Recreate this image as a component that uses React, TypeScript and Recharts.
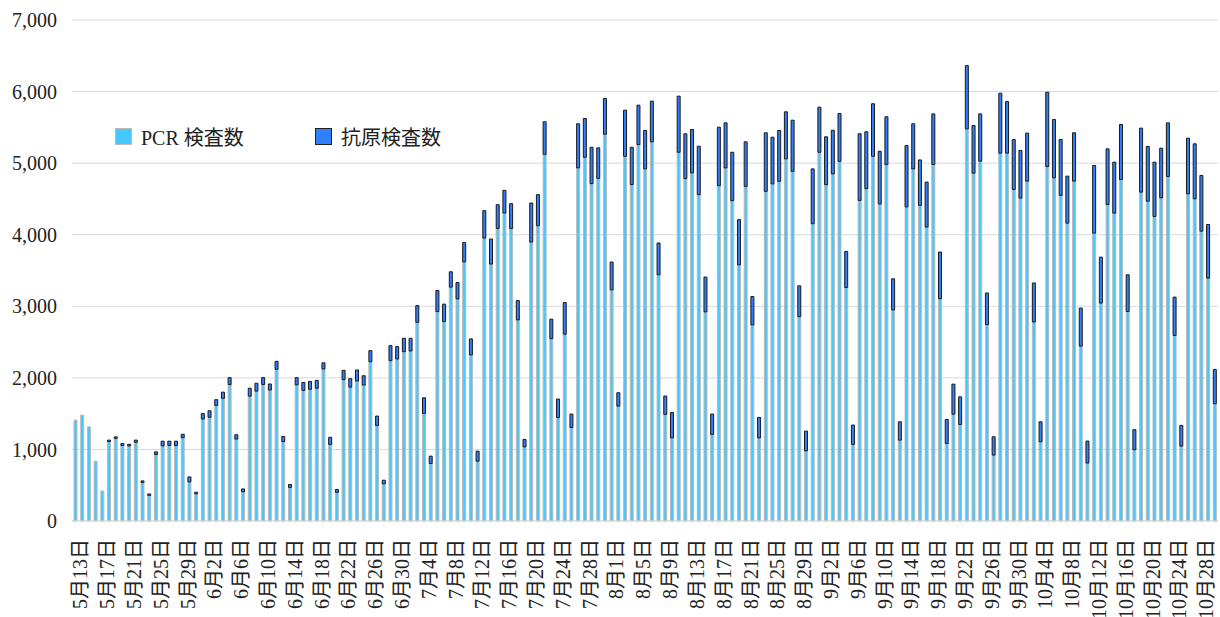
import { BarChart, Bar, XAxis, YAxis, CartesianGrid, Legend } from "recharts";

const dates = [
  "5月13日", "5月14日", "5月15日", "5月16日", "5月17日", "5月18日", "5月19日", "5月20日", "5月21日", "5月22日",
  "5月23日", "5月24日", "5月25日", "5月26日", "5月27日", "5月28日", "5月29日", "5月30日", "5月31日",
  "6月1日", "6月2日", "6月3日", "6月4日", "6月5日", "6月6日", "6月7日", "6月8日", "6月9日", "6月10日",
  "6月11日", "6月12日", "6月13日", "6月14日", "6月15日", "6月16日", "6月17日", "6月18日", "6月19日", "6月20日",
  "6月21日", "6月22日", "6月23日", "6月24日", "6月25日", "6月26日", "6月27日", "6月28日", "6月29日", "6月30日",
  "7月1日", "7月2日", "7月3日", "7月4日", "7月5日", "7月6日", "7月7日", "7月8日", "7月9日", "7月10日",
  "7月11日", "7月12日", "7月13日", "7月14日", "7月15日", "7月16日", "7月17日", "7月18日", "7月19日", "7月20日",
  "7月21日", "7月22日", "7月23日", "7月24日", "7月25日", "7月26日", "7月27日", "7月28日", "7月29日", "7月30日", "7月31日",
  "8月1日", "8月2日", "8月3日", "8月4日", "8月5日", "8月6日", "8月7日", "8月8日", "8月9日", "8月10日",
  "8月11日", "8月12日", "8月13日", "8月14日", "8月15日", "8月16日", "8月17日", "8月18日", "8月19日", "8月20日",
  "8月21日", "8月22日", "8月23日", "8月24日", "8月25日", "8月26日", "8月27日", "8月28日", "8月29日", "8月30日", "8月31日",
  "9月1日", "9月2日", "9月3日", "9月4日", "9月5日", "9月6日", "9月7日", "9月8日", "9月9日", "9月10日",
  "9月11日", "9月12日", "9月13日", "9月14日", "9月15日", "9月16日", "9月17日", "9月18日", "9月19日", "9月20日",
  "9月21日", "9月22日", "9月23日", "9月24日", "9月25日", "9月26日", "9月27日", "9月28日", "9月29日", "9月30日",
  "10月1日", "10月2日", "10月3日", "10月4日", "10月5日", "10月6日", "10月7日", "10月8日", "10月9日", "10月10日",
  "10月11日", "10月12日", "10月13日", "10月14日", "10月15日", "10月16日", "10月17日", "10月18日", "10月19日", "10月20日",
  "10月21日", "10月22日", "10月23日", "10月24日", "10月25日", "10月26日", "10月27日", "10月28日", "10月29日", "10月30日",
];

// PCR検査数
const pcr = [
  1410, 1480, 1316, 836, 420, 1110, 1155, 1055, 1050, 1100, 540, 358, 930, 1050, 1055, 1055, 1165, 546, 380,
  1425, 1450, 1615, 1715, 1908, 1145, 408, 1745, 1815, 1908, 1830, 2120, 1110, 470, 1903, 1825, 1840, 1855, 2125, 1070,
  400, 1975, 1870, 1956, 1900, 2226, 1336, 519, 2240, 2264,
  2366, 2376, 2777, 1503, 803, 2926, 2787, 3268, 3103, 3620, 2320, 836, 3953, 3590, 4088, 4303, 4088, 2810, 1036, 3898,
  4126, 5124, 2548, 1447, 2610, 1307, 4934, 5082, 4714, 4788, 5404,
  3230, 1606, 5096, 4700, 5260, 4920, 5298, 3440, 1490, 1162, 5152, 4784, 4864, 4560, 2922, 1210, 4686, 4933, 4476, 3580,
  4676, 2740, 1162, 4606, 4710, 4746, 5060, 4886, 2856, 980, 4154,
  5152, 4700, 4850, 5026, 3262, 1070, 4480, 4644, 5096, 4430, 4980, 2950, 1130, 4388, 4920, 4410, 4107, 4981, 3107, 1084,
  1493, 1349, 5479, 4860, 5028, 2744, 921, 5140, 5140, 4633,
  4512, 4749, 2781, 1107, 4953, 4795, 4549, 4162, 4749, 2444, 810, 4022, 3045, 4423, 4302, 4772, 2928, 996, 4595, 4469,
  4255, 4516, 4814, 2593, 1047, 4572, 4502, 4050, 3394, 1639,
];

// 抗原検査数
const antigen = [
  0, 0, 0, 0, 0, 20, 20, 28, 22, 30, 20, 20, 36, 65, 60, 60, 47, 70, 22,
  75, 90, 80, 85, 95, 60, 40, 110, 110, 95, 85, 110, 70, 40, 100, 110, 110, 110, 85, 100,
  40, 130, 118, 154, 130, 154, 130, 51, 210, 172,
  187, 177, 233, 219, 103, 294, 243, 214, 229, 270, 224, 140, 383, 350, 332, 317, 346, 270, 104, 545,
  434, 454, 272, 257, 442, 187, 616, 542, 508, 426, 500,
  388, 186, 644, 522, 550, 536, 568, 444, 256, 355, 784, 626, 606, 676, 486, 284, 816, 630, 676, 630,
  622, 396, 285, 818, 652, 710, 657, 714, 430, 276, 766,
  630, 668, 610, 668, 504, 270, 930, 794, 734, 736, 668, 434, 256, 858, 630, 635, 628, 707, 651, 335,
  419, 386, 884, 666, 660, 442, 256, 837, 720, 697,
  665, 670, 545, 279, 1038, 814, 781, 656, 675, 531, 307, 945, 642, 777, 712, 768, 512, 280, 894, 764,
  759, 693, 749, 535, 289, 777, 768, 778, 749, 479,
];

const yTicks = [0, 1000, 2000, 3000, 4000, 5000, 6000, 7000];

const data = dates.map((d, i) => ({ date: d, pcr: pcr[i], antigen: antigen[i] }));

const FONT = "'Liberation Serif', 'Noto Sans CJK JP', serif";
const PCR_COLOR = "#45c8ff";
const AG_COLOR = "#2f7fff";

function DateTick(props: any) {
  const { x, y, payload } = props;
  return (
    <text
      x={x}
      y={y}
      transform={`rotate(-90, ${x}, ${y})`}
      textAnchor="end"
      dominantBaseline="central"
      dx={-18}
      dy={5}
      fontSize={20}
      fontFamily={FONT}
      fill="#222"
    >
      {payload.value}
    </text>
  );
}

function LegendBox() {
  const items = [
    { name: "PCR 検査数", fill: PCR_COLOR, stroke: "#bbbbbb" },
    { name: "抗原検査数", fill: AG_COLOR, stroke: "#222" },
  ];
  return (
    <div style={{ display: "flex", alignItems: "center", fontFamily: FONT, fontSize: 20, color: "#222" }}>
      {items.map((it) => (
        <div key={it.name} style={{ display: "flex", alignItems: "center", width: 200 }}>
          <span
            style={{
              display: "inline-block",
              width: 15,
              height: 15,
              background: it.fill,
              border: `1px solid ${it.stroke}`,
              marginRight: 9,
            }}
          />
          <span>{it.name}</span>
        </div>
      ))}
    </div>
  );
}

export default function App() {
  return (
    <div style={{ position: "absolute", left: 0, top: 0, background: "#fff" }}>
      <BarChart width={1220} height={617} data={data} margin={{ top: 20, right: 2, left: 0, bottom: 0 }}>
        <CartesianGrid vertical={false} stroke="#d9d9d9" />
        <XAxis
          dataKey="date"
          interval={3}
          height={96}
          tickSize={0}
          tickMargin={0}
          tickLine={false}
          axisLine={{ stroke: "#d9d9d9" }}
          tick={<DateTick />}
        />
        <YAxis
          width={72}
          domain={[0, 7000]}
          ticks={yTicks}
          tickSize={0}
          tickMargin={15}
          tickLine={false}
          axisLine={false}
          tick={{ fontSize: 20, fontFamily: FONT, fill: "#222" }}
          tickFormatter={(v) => Number(v).toLocaleString("en-US")}
        />
        <Legend
          layout="horizontal"
          verticalAlign="middle"
          align="center"
          wrapperStyle={{ top: 122, left: 115, width: 420 }}
          content={() => <LegendBox />}
        />
        <Bar dataKey="pcr" name="PCR 検査数" stackId="a" barSize={3} fill={PCR_COLOR} stroke="#bbbbbb" strokeWidth={1} isAnimationActive={false} />
        <Bar dataKey="antigen" name="抗原検査数" stackId="a" barSize={3} fill={AG_COLOR} stroke="#1a1a1a" strokeWidth={1} isAnimationActive={false} />
      </BarChart>
    </div>
  );
}
